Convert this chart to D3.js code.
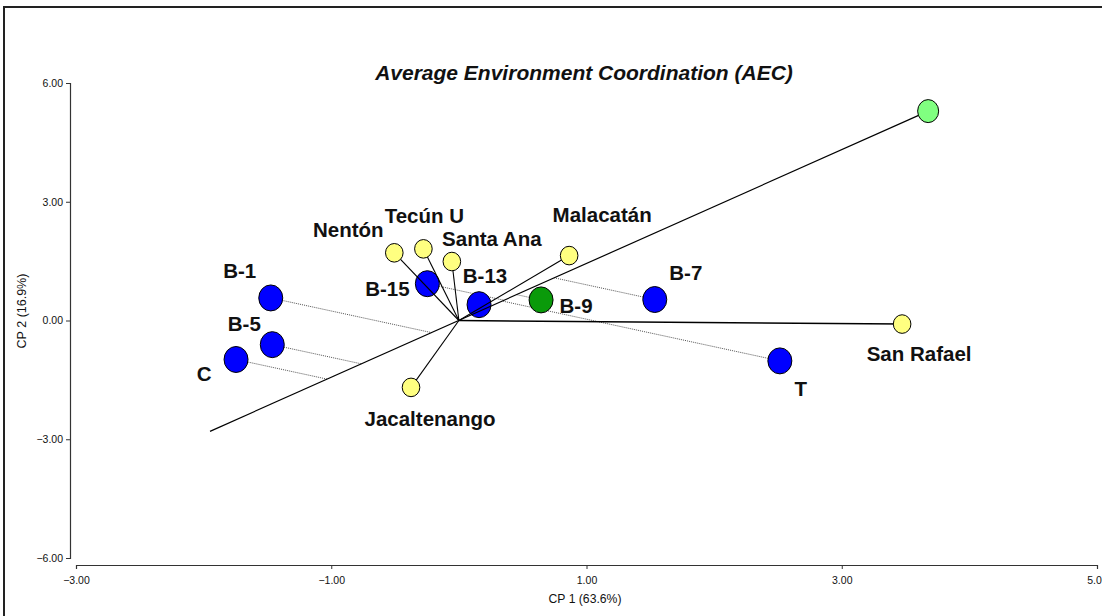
<!DOCTYPE html>
<html>
<head>
<meta charset="utf-8">
<script src="https://cdn.jsdelivr.net/npm/d3@7"></script>
<style>
  html, body { margin: 0; padding: 0; background: #fff; overflow: hidden; }
  svg { display: block; font-family: "Liberation Sans", Arial, sans-serif; }
</style>
</head>
<body>
<svg id="chart" width="1102" height="616"></svg>
<script>
// ---- data ----
const genotypes = ["B-1", "B-5", "C", "B-15", "B-13", "B-9", "B-7", "T"];
const genoX = [-1.474, -1.462, -1.746, -0.247, 0.158, 0.644, 1.535, 2.515];
const genoY = [0.57, -0.61, -0.985, 0.93, 0.40, 0.52, 0.53, -1.02];
const genoKind = ["blue", "blue", "blue", "blue", "blue", "green", "blue", "blue"];

const environments = ["Nentón", "Tecún U", "Santa Ana", "Malacatán", "Jacaltenango", "San Rafael"];
const envX = [-0.506, -0.278, -0.055, 0.864, -0.375, 3.473];
const envY = [1.71, 1.81, 1.49, 1.64, -1.69, -0.09];

const aecPoint = [3.677, 5.29];      // average environment
const aecAxisLow = [-1.95, -2.80];   // opposite end of AEC abscissa

const xTicks = [-3, -1, 1, 3, 5];
const yTicks = [-6, -3, 0, 3, 6];
const xTitle = "CP 1 (63.6%)";
const yTitle = "CP 2 (16.9%)";
const chartTitle = "Average Environment Coordination (AEC)";

// ---- layout ----
const svg = d3.select("#chart");
const x = d3.scaleLinear().domain([-3, 5]).range([76, 1097]);
const y = d3.scaleLinear().domain([-6, 6]).range([558, 83]);

// frame (right and bottom edges lie outside the picture)
svg.append("path").attr("d", "M4,640 L4,7 L1130,7")
  .attr("fill", "none").attr("stroke", "#222").attr("stroke-width", 2);

// axes
const xAxis = svg.append("g").attr("transform", "translate(0,565)")
  .call(d3.axisBottom(x).tickValues(xTicks).tickFormat(d3.format(".2f")).tickSizeOuter(0).tickSize(4));
const yAxis = svg.append("g").attr("transform", "translate(70,0)")
  .call(d3.axisLeft(y).tickValues(yTicks).tickFormat(d3.format(".2f")).tickSizeOuter(0).tickSize(4));
[xAxis, yAxis].forEach(g => {
  g.select(".domain").attr("stroke", "#333").attr("stroke-width", 1.2);
  g.selectAll(".tick line").attr("stroke", "#333");
  g.selectAll(".tick text").attr("font-family", "Liberation Sans, Arial, sans-serif")
    .attr("font-size", 10.5).attr("fill", "#111");
});
xAxis.selectAll(".tick text").attr("dy", "1.1em");
yAxis.selectAll(".tick text").attr("x", -7);

svg.append("text").attr("x", 585).attr("y", 603).attr("text-anchor", "middle")
  .attr("font-size", 12.2).attr("fill", "#111").text(xTitle);
svg.append("text").attr("transform", "translate(26,311) rotate(-90)").attr("text-anchor", "middle")
  .attr("font-size", 12.5).attr("fill", "#111").text(yTitle);

svg.append("text").attr("x", 584).attr("y", 80).attr("text-anchor", "middle")
  .attr("font-size", 21).attr("font-weight", "bold").attr("font-style", "italic")
  .attr("fill", "#111").text(chartTitle);

// ---- projections of genotypes onto AEC axis ----
const norm = Math.hypot(aecPoint[0], aecPoint[1]);
const u = [aecPoint[0] / norm, aecPoint[1] / norm];
const geno = genotypes.map((g, i) => {
  const d = genoX[i] * u[0] + genoY[i] * u[1];
  return { name: g, x: genoX[i], y: genoY[i], px: d * u[0], py: d * u[1], kind: genoKind[i] };
});
svg.append("g").selectAll("line").data(geno).join("line")
  .attr("x1", d => x(d.x)).attr("y1", d => y(d.y))
  .attr("x2", d => x(d.px)).attr("y2", d => y(d.py))
  .attr("stroke", "#555").attr("stroke-width", 1).attr("stroke-dasharray", "1,1");

// genotype circles
svg.append("g").selectAll("ellipse").data(geno).join("ellipse")
  .attr("cx", d => x(d.x)).attr("cy", d => y(d.y)).attr("rx", 12).attr("ry", 13)
  .attr("fill", d => d.kind === "green" ? "#0A9A0A" : "#0000FF")
  .attr("stroke", "#000").attr("stroke-width", 1);

// AEC axis
svg.append("line")
  .attr("x1", x(aecAxisLow[0])).attr("y1", y(aecAxisLow[1]))
  .attr("x2", x(aecPoint[0])).attr("y2", y(aecPoint[1]))
  .attr("stroke", "#000").attr("stroke-width", 1.2);

// environment vectors
const env = environments.map((e, i) => ({ name: e, x: envX[i], y: envY[i] }));
svg.append("g").selectAll("line").data(env).join("line")
  .attr("x1", x(0)).attr("y1", y(0))
  .attr("x2", d => x(d.x)).attr("y2", d => y(d.y))
  .attr("stroke", "#000").attr("stroke-width", d => d.name === "San Rafael" ? 1.5 : 1.1);

svg.append("g").selectAll("ellipse").data(env).join("ellipse")
  .attr("cx", d => x(d.x)).attr("cy", d => y(d.y)).attr("rx", 8.8).attr("ry", 9.3)
  .attr("fill", "#FFFF80").attr("stroke", "#000").attr("stroke-width", 1);

svg.append("ellipse")
  .attr("cx", x(aecPoint[0])).attr("cy", y(aecPoint[1])).attr("rx", 10.5).attr("ry", 11.5)
  .attr("fill", "#80FF80").attr("stroke", "#000").attr("stroke-width", 1);

// ---- labels (pixel offsets from their marks) ----
const labelOffset = {
  "B-1": [-31, -20], "B-5": [-28, -14], "C": [-32, 22], "B-15": [-40, 12],
  "B-13": [6, -22], "B-9": [35, 13], "B-7": [31, -20], "T": [21, 35.5],
  "Nentón": [-46, -16], "Tecún U": [1, -26], "Santa Ana": [40, -16],
  "Malacatán": [33, -34], "Jacaltenango": [19, 39], "San Rafael": [17, 36.5]
};
const labels = geno.map(d => ({ name: d.name, x: d.x, y: d.y }))
  .concat(env.map(d => ({ name: d.name, x: d.x, y: d.y })));
svg.append("g").selectAll("text").data(labels).join("text")
  .attr("x", d => x(d.x) + labelOffset[d.name][0])
  .attr("y", d => y(d.y) + labelOffset[d.name][1])
  .attr("text-anchor", "middle").attr("font-size", 20.5).attr("font-weight", "bold")
  .attr("fill", "#111").text(d => d.name);
</script>
</body>
</html>
